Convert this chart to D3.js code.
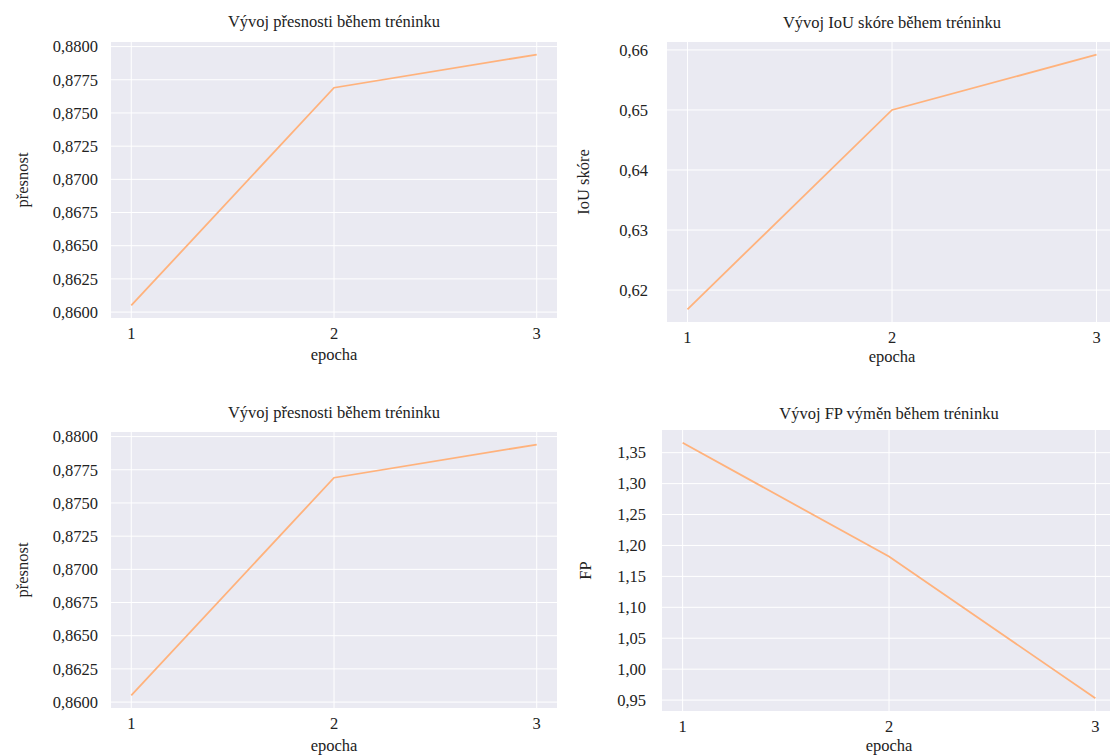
<!DOCTYPE html>
<html>
<head>
<meta charset="utf-8">
<script src="https://cdn.jsdelivr.net/npm/d3@7"></script>
<style>
  body { margin: 0; background: #fff; }
  svg { display: block; }
  text { font-family: "Liberation Serif", "DejaVu Serif", serif; fill: #222; }
</style>
</head>
<body>
<svg id="chart" width="1110" height="755"></svg>
<script>
// Data
var epochs = [1, 2, 3];
var accuracy = [0.8605, 0.8769, 0.8794];
var iouScore = [0.6168, 0.6500, 0.6592];
var fpSwaps = [1.366, 1.182, 0.953];

// Tick labels
var accuracyTicks = [0.8600, 0.8625, 0.8650, 0.8675, 0.8700, 0.8725, 0.8750, 0.8775, 0.8800];
var iouTicks = [0.62, 0.63, 0.64, 0.65, 0.66];
var fpTicks = [0.95, 1.00, 1.05, 1.10, 1.15, 1.20, 1.25, 1.30, 1.35];

var svg = d3.select("#chart");

// Comma as decimal separator
var fmt = function(digits) {
  var f = d3.format("." + digits + "f");
  return function(d) { return f(d).replace(".", ","); };
};

// Matplotlib-like 5% margin
var pad = function(ext) {
  var m = (ext[1] - ext[0]) * 0.05;
  return [ext[0] - m, ext[1] + m];
};

var drawPanel = function(p) {

  var g = svg.append("g");

  var x = d3.scaleLinear().domain(pad([1, 3])).range([p.left, p.right]);
  var y = d3.scaleLinear().domain(pad(d3.extent(p.values))).range([p.bottom, p.top]);

  // Background
  g.append("rect")
    .attr("x", p.left).attr("y", p.top)
    .attr("width", p.right - p.left).attr("height", p.bottom - p.top)
    .attr("fill", "#eaeaf2");

  // Grid
  g.selectAll("line.hgrid").data(p.ticks).enter().append("line")
    .attr("class", "hgrid")
    .attr("x1", p.left).attr("x2", p.right)
    .attr("y1", function(d) { return y(d); }).attr("y2", function(d) { return y(d); })
    .attr("stroke", "#fff").attr("stroke-width", 1);

  g.selectAll("line.vgrid").data(epochs).enter().append("line")
    .attr("class", "vgrid")
    .attr("y1", p.top).attr("y2", p.bottom)
    .attr("x1", function(d) { return x(d); }).attr("x2", function(d) { return x(d); })
    .attr("stroke", "#fff").attr("stroke-width", 1);

  // Line
  var line = d3.line()
    .x(function(d, i) { return x(epochs[i]); })
    .y(function(d) { return y(d); });

  g.append("path").datum(p.values)
    .attr("d", line)
    .attr("fill", "none")
    .attr("stroke", "#ffb27c")
    .attr("stroke-width", 1.8);

  // Y tick labels
  g.selectAll("text.ytick").data(p.ticks).enter().append("text")
    .attr("class", "ytick")
    .attr("x", p.left - p.yGap)
    .attr("y", function(d) { return y(d); })
    .attr("dy", "0.35em")
    .attr("text-anchor", "end")
    .attr("font-size", 16.5)
    .text(fmt(p.digits));

  // X tick labels
  g.selectAll("text.xtick").data(epochs).enter().append("text")
    .attr("class", "xtick")
    .attr("x", function(d) { return x(d); })
    .attr("y", p.bottom + 15)
    .attr("dy", "0.35em")
    .attr("text-anchor", "middle")
    .attr("font-size", 16.5)
    .text(function(d) { return d; });

  // Axis labels
  g.append("text")
    .attr("x", (p.left + p.right) / 2)
    .attr("y", p.bottom + p.xLabelOff)
    .attr("dy", "0.35em")
    .attr("text-anchor", "middle")
    .attr("font-size", 16.5)
    .text("epocha");

  g.append("text")
    .attr("transform", "translate(" + p.yLabelX + "," + ((p.top + p.bottom) / 2) + ") rotate(-90)")
    .attr("dy", "0.35em")
    .attr("text-anchor", "middle")
    .attr("font-size", 16.5)
    .text(p.yLabel);

  // Title
  g.append("text")
    .attr("x", (p.left + p.right) / 2)
    .attr("y", p.top - p.titleOff)
    .attr("dy", "0.35em")
    .attr("text-anchor", "middle")
    .attr("font-size", 16.5)
    .text(p.title);
};

drawPanel({ left: 111, right: 557, top: 42, bottom: 318, values: accuracy, ticks: accuracyTicks, digits: 4,
  yGap: 13, yLabelX: 22, xLabelOff: 36, titleOff: 21,
  yLabel: "přesnost", title: "Vývoj přesnosti během tréninku" });

drawPanel({ left: 667, right: 1117, top: 42, bottom: 322, values: iouScore, ticks: iouTicks, digits: 2,
  yGap: 19, yLabelX: 583, xLabelOff: 34, titleOff: 20,
  yLabel: "IoU skóre", title: "Vývoj IoU skóre během tréninku" });

drawPanel({ left: 111, right: 557, top: 432, bottom: 708, values: accuracy, ticks: accuracyTicks, digits: 4,
  yGap: 13, yLabelX: 22, xLabelOff: 37, titleOff: 20,
  yLabel: "přesnost", title: "Vývoj přesnosti během tréninku" });

drawPanel({ left: 662, right: 1116, top: 430, bottom: 711, values: fpSwaps, ticks: fpTicks, digits: 2,
  yGap: 16, yLabelX: 585, xLabelOff: 34, titleOff: 17,
  yLabel: "FP", title: "Vývoj FP výměn během tréninku" });
</script>
</body>
</html>
